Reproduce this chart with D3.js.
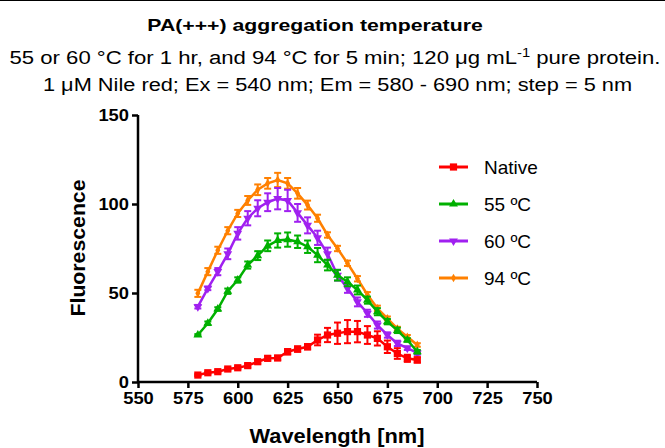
<!DOCTYPE html>
<html>
<head>
<meta charset="utf-8">
<script src="https://cdn.jsdelivr.net/npm/d3@7"></script>
<style>
  body { margin: 0; background: #fff; }
  svg { display: block; font-family: "Liberation Sans", Arial, sans-serif; }
</style>
</head>
<body>
<svg id="chart"></svg>
<script>
// wavelengths 580 - 690 nm, step 5
const wavelengths = [580, 585, 590, 595, 600, 605, 610, 615, 620, 625, 630, 635,
  640, 645, 650, 655, 660, 665, 670, 675, 680, 685, 690];

const seriesNames = ["Native", "55 ºC", "60 ºC", "94 ºC"];

const nativeMean = [3.9, 5.2, 5.8, 7.3, 8, 9.2, 11.4, 13.3, 13.5, 17, 18.5, 19.8,
  23.6, 26.4, 27.4, 28.3, 28.3, 26.4, 24.5, 19.8, 16, 13.3, 12.4];
const nativeErr = [0.5, 0.6, 0.6, 0.8, 0.8, 1, 1, 1.2, 1.2, 1.5, 1.5, 1.5,
  3, 4, 6, 6.5, 6, 5, 4, 3.5, 3, 2, 1.5];

const c55Mean = [26.4, 33, 41, 51, 57.3, 65.7, 71, 76.5, 79.5, 80, 78.8, 76,
  71.3, 65.7, 60, 56.3, 51.7, 46, 39.5, 33.9, 29, 23.6, 17];
const c55Err = [0.5, 1, 1, 1.5, 1.5, 2, 2.5, 3, 4, 4, 3.5, 3.5,
  4, 3, 3, 2.5, 2.5, 2, 2, 1.5, 1.5, 1, 1];

const c60Mean = [42.3, 52.6, 62, 72, 83.5, 92, 97.6, 101, 103, 102, 95, 88,
  81, 72, 60, 52.6, 45, 38.6, 32, 26.4, 21.7, 19, 16.3];
const c60Err = [1, 1, 2, 3, 3.5, 4, 4.5, 5, 6, 6, 5, 4.5,
  4, 3.5, 3, 2.5, 2.5, 2, 2, 1.5, 1.5, 1, 1];

const c94Mean = [49.8, 62, 74, 85, 94.7, 102, 108, 111.6, 113.5, 111.6, 106, 99.4,
  92, 82.6, 75, 66.7, 58, 49, 41.4, 35.8, 30, 25.4, 20.8];
const c94Err = [2, 2, 2, 2, 2, 2.5, 3, 3, 4, 3, 3, 2.5,
  2, 1.5, 1.5, 1.5, 1.5, 1.5, 1.5, 1, 1, 1, 1];

const xTicks = [550, 575, 600, 625, 650, 675, 700, 725, 750];
const yTicks = [0, 50, 100, 150];

const width = 665, height = 448;
const svg = d3.select("#chart").attr("width", width).attr("height", height);

// top border line
svg.append("line").attr("x1", 0).attr("x2", width).attr("y1", 0.5).attr("y2", 0.5)
  .attr("stroke", "#000").attr("stroke-width", 1);

// titles (the original is a bit stretched sideways)
svg.append("text").attr("transform", "translate(315,31) scale(1.25,1)").attr("text-anchor", "middle")
  .attr("font-size", 17).attr("font-weight", "bold").text("PA(+++) aggregation temperature");

const sub1 = svg.append("text").attr("transform", "translate(335,64) scale(1.23,1)")
  .attr("text-anchor", "middle").attr("font-size", 18);
sub1.append("tspan").text("55 or 60 °C for 1 hr, and 94 °C for 5 min; 120 μg mL");
sub1.append("tspan").attr("dy", -7).attr("font-size", 12).text("-1");
sub1.append("tspan").attr("dy", 7).text(" pure protein.");

svg.append("text").attr("transform", "translate(337.5,91) scale(1.21,1)").attr("text-anchor", "middle")
  .attr("font-size", 18).text("1 μM Nile red; Ex = 540 nm; Em = 580 - 690 nm; step = 5 nm");

const x = d3.scaleLinear().domain([550, 750]).range([138, 537]);
const y = d3.scaleLinear().domain([0, 150]).range([382, 115]);

// axes
const xAxis = svg.append("g").attr("transform", "translate(0," + y(0) + ")")
  .call(d3.axisBottom(x).tickValues(xTicks).tickSize(6).tickPadding(4).tickFormat(d3.format("d")));
const yAxis = svg.append("g").attr("transform", "translate(" + x(550) + ",0)")
  .call(d3.axisLeft(y).tickValues(yTicks).tickSize(6).tickPadding(3).tickFormat(d3.format("d")));

[xAxis, yAxis].forEach(g => {
  g.select(".domain").attr("stroke", "#000").attr("stroke-width", 2.5);
  g.selectAll(".tick line").attr("stroke", "#000").attr("stroke-width", 2.5);
  g.selectAll(".tick text").attr("fill", "#000").attr("font-size", 17)
    .attr("font-weight", "bold").attr("font-family", "Liberation Sans, Arial, sans-serif")
    .attr("textLength", d => String(d).length * 10.2)
    .attr("lengthAdjust", "spacingAndGlyphs");
});
xAxis.select(".domain").attr("d", "M" + x(550) + ",0H" + x(750));
yAxis.select(".domain").attr("d", "M0," + y(150) + "V" + y(0));

svg.append("text").attr("x", 337).attr("y", 443).attr("text-anchor", "middle")
  .attr("font-size", 20).attr("font-weight", "bold")
  .attr("textLength", 175).attr("lengthAdjust", "spacingAndGlyphs").text("Wavelength [nm]");
svg.append("text").attr("transform", "translate(85,248) rotate(-90)")
  .attr("text-anchor", "middle").attr("font-size", 20).attr("font-weight", "bold")
  .attr("textLength", 137).attr("lengthAdjust", "spacingAndGlyphs")
  .text("Fluorescence");

const series = [
  { name: seriesNames[0], mean: nativeMean, err: nativeErr, color: "#ff0000", sym: d3.symbolSquare, size: 52, rot: 0 },
  { name: seriesNames[1], mean: c55Mean, err: c55Err, color: "#00b000", sym: d3.symbolTriangle, size: 34, rot: 0 },
  { name: seriesNames[2], mean: c60Mean, err: c60Err, color: "#a020f0", sym: d3.symbolTriangle, size: 34, rot: 180 },
  { name: seriesNames[3], mean: c94Mean, err: c94Err, color: "#ff8000", sym: d3.symbolDiamond, size: 22, rot: 0 }
];

const line = d3.line().x((d, i) => x(wavelengths[i])).y(d => y(d));

// draw so that Native ends up on top
series.slice().reverse().forEach(s => {
  const g = svg.append("g");
  g.append("path").datum(s.mean).attr("d", line).attr("fill", "none")
    .attr("stroke", s.color).attr("stroke-width", 2.5);
  const eb = g.selectAll(".eb").data(s.mean).enter().append("g");
  eb.append("line").attr("x1", (d, i) => x(wavelengths[i])).attr("x2", (d, i) => x(wavelengths[i]))
    .attr("y1", (d, i) => y(d + s.err[i])).attr("y2", (d, i) => y(d - s.err[i]))
    .attr("stroke", s.color).attr("stroke-width", 2);
  [1, -1].forEach(sgn => {
    eb.append("line").attr("x1", (d, i) => x(wavelengths[i]) - 3.5).attr("x2", (d, i) => x(wavelengths[i]) + 3.5)
      .attr("y1", (d, i) => y(d + sgn * s.err[i])).attr("y2", (d, i) => y(d + sgn * s.err[i]))
      .attr("stroke", s.color).attr("stroke-width", 2);
  });
  g.selectAll(".pt").data(s.mean).enter().append("path")
    .attr("d", d3.symbol().type(s.sym).size(s.size))
    .attr("transform", (d, i) => "translate(" + x(wavelengths[i]) + "," + y(d) + ") rotate(" + s.rot + ")")
    .attr("fill", s.color);
});

// legend
const legY = [167, 204, 241, 278];
series.forEach((s, i) => {
  const lg = svg.append("g").attr("transform", "translate(439," + legY[i] + ")");
  lg.append("line").attr("x1", 0).attr("x2", 29).attr("stroke", s.color).attr("stroke-width", 3);
  lg.append("path").attr("d", d3.symbol().type(s.sym).size(s.size))
    .attr("transform", "translate(14.5,0) rotate(" + s.rot + ")").attr("fill", s.color);
  lg.append("text").attr("x", 45).attr("y", 7).attr("font-size", 19).text(s.name);
});
</script>
</body>
</html>
